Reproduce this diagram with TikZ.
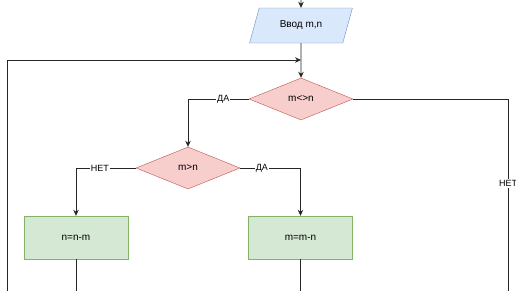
\documentclass[tikz,border=0pt]{standalone}
\usepackage{fontspec}
\setmainfont{Liberation Sans}
\usetikzlibrary{shapes.geometric,arrows.meta}
\definecolor{bluefill}{HTML}{DAE8FC}\definecolor{bluedraw}{HTML}{6C8EBF}
\definecolor{redfill}{HTML}{F8CECC}\definecolor{reddraw}{HTML}{B85450}
\definecolor{greenfill}{HTML}{D5E8D4}\definecolor{greendraw}{HTML}{82B366}
\tikzset{
  io/.style={trapezium, trapezium left angle=61, trapezium right angle=119, trapezium stretches=true,
    draw=bluedraw, fill=bluefill, minimum width=103pt, minimum height=35pt, inner sep=0pt, font=\fontsize{10}{12}\selectfont},
  cond/.style={diamond, draw=reddraw, fill=redfill, minimum width=104pt, minimum height=42pt, inner sep=0pt, aspect=2.5, font=\fontsize{10}{12}\selectfont},
  proc/.style={rectangle, draw=greendraw, fill=greenfill, minimum width=104pt, minimum height=43pt, inner sep=0pt, font=\fontsize{10}{12}\selectfont},
  arr/.style={draw=black!85, line width=0.75pt, -{Stealth[length=6pt,width=5.5pt]}},
  ln/.style={draw=black!85, line width=0.75pt},
  lab/.style={fill=white, inner sep=1pt, font=\fontsize{9}{10}\selectfont},
}
\begin{document}
\begin{tikzpicture}[x=1pt,y=-1pt]
\useasboundingbox (0,0) rectangle (516,290);
\node[io] (inp) at (301,25.5) {Ввод m,n};
\node[cond] (c1) at (301,99) {m<>n};
\node[cond] (c2) at (188,168) {m>n};
\node[proc] (p1) at (76,237.5) {n=n-m};
\node[proc] (p2) at (300.5,237.5) {m=m-n};
\coordinate (top) at (301,-1);
\coordinate (join) at (301,60);
\coordinate (loopb) at (7,291);
\coordinate (b1) at (76,291);
\coordinate (b2) at (300.5,291);
\coordinate (rb) at (508,291);
\draw[arr] (top) -- (inp.north);
\draw[arr] (inp.south) -- (c1.north);
\draw[arr] (loopb) |- (join);
\draw[arr] (c1.west) -| node[lab,pos=0.21] {ДА} (c2.north);
\draw[arr] (c2.west) -| node[lab,pos=0.30] {НЕТ} (p1.north);
\draw[arr] (c2.east) -| node[lab,pos=0.18] {ДА} (p2.north);
\draw[ln] (c1.east) -| node[lab,pos=0.72] {НЕТ} (rb);
\draw[ln] (p1.south) -- (b1);
\draw[ln] (p2.south) -- (b2);
\end{tikzpicture}
\end{document}
